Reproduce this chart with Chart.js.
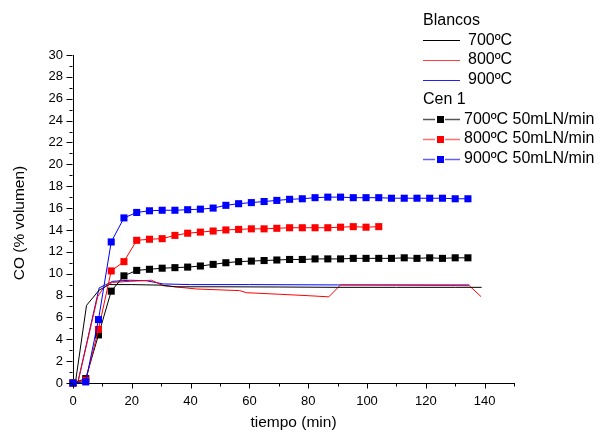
<!DOCTYPE html>
<html><head><meta charset="utf-8">
<script src="https://cdn.jsdelivr.net/npm/chart.js@4"></script>
<style>html,body{margin:0;padding:0;background:#fff}#wrap{width:609px;height:435px}</style>
</head><body><div id="wrap"><canvas id="c" width="609" height="435"></canvas></div>
<script>
// ---- DATA ----
const markerTimes = [0, 4.33, 8.67, 13, 17.33, 21.67, 26, 30.33, 34.67, 39, 43.33, 47.67, 52, 56.33, 60.67, 65,
  69.33, 73.67, 78, 82.33, 86.67, 91, 95.33, 99.67, 104, 108.33, 112.67, 117, 121.33, 125.67, 130, 134.33];
const cen700 = [0, 0.4, 4.4, 8.4, 9.8, 10.3, 10.4, 10.5, 10.55, 10.6, 10.7, 10.85, 11.0, 11.1, 11.15, 11.2,
  11.25, 11.3, 11.3, 11.35, 11.35, 11.35, 11.4, 11.4, 11.4, 11.4, 11.45, 11.4, 11.45, 11.4, 11.45, 11.45];
const cen800 = [0, 0.25, 4.9, 10.25, 11.1, 13.05, 13.15, 13.2, 13.5, 13.7, 13.8, 13.9, 14.0, 14.05, 14.1, 14.1,
  14.15, 14.2, 14.2, 14.2, 14.2, 14.25, 14.3, 14.25, 14.3];
const cen900 = [0, 0.1, 5.8, 12.9, 15.1, 15.6, 15.75, 15.8, 15.8, 15.85, 15.9, 16.0, 16.25, 16.4, 16.5, 16.6,
  16.7, 16.8, 16.85, 16.95, 17.0, 17.0, 16.95, 16.95, 16.95, 16.9, 16.9, 16.9, 16.9, 16.9, 16.85, 16.85];

const blanco700T = [0.8, 4.6, 8.9, 12.3, 20, 30, 35, 50, 70, 90, 110, 130, 139];
const blanco700  = [0, 7.1, 8.5, 9.0, 9.0, 8.95, 8.8, 8.8, 8.78, 8.75, 8.75, 8.75, 8.75];
const blanco800T = [1.6, 8.4, 10.1, 11.8, 13.5, 19.4, 26.7, 30.7, 42, 56.7, 59, 70, 80.5, 87, 91, 110, 134.8, 138.8];
const blanco800  = [0, 7.9, 8.6, 9.0, 9.2, 9.3, 9.4, 8.9, 8.6, 8.45, 8.26, 8.12, 7.98, 7.88, 8.97, 8.95, 8.9, 7.9];
const blanco900T = [1.6, 8.9, 11.2, 13.5, 19.4, 25, 30.7, 40, 60, 90, 120, 134.8];
const blanco900  = [0, 8.7, 9.0, 9.3, 9.4, 9.35, 9.06, 9.0, 9.0, 8.97, 8.97, 8.97];

const seriesLabels = ['700ºC', '800ºC', '900ºC', '700ºC 50mLN/min', '800ºC 50mLN/min', '900ºC 50mLN/min'];
const xTickValues = [0, 20, 40, 60, 80, 100, 120, 140];
const xTitle = 'tiempo (min)';
const yTitle = 'CO (% volumen)';

// ---- CHART ----
const FONT = "'Liberation Sans', Arial, sans-serif";
function pts(t, v) { return v.map((y, i) => ({ x: t[i], y })); }

const lineDs = (label, t, v, color, order) => ({
  label, data: pts(t, v), borderColor: color, backgroundColor: color, borderWidth: 1,
  pointRadius: 0, showLine: true, tension: 0, order
});
const markDs = (label, v, color, order) => ({
  label, data: pts(markerTimes, v), borderColor: color, backgroundColor: color, borderWidth: 1,
  pointRadius: 5, pointStyle: 'rect', pointBorderWidth: 0, showLine: true, tension: 0, clip: false, order
});

const tickPlugin = {
  id: 'tickmarks',
  afterDraw(chart) {
    const ctx = chart.ctx, xs = chart.scales.x, ys = chart.scales.y, ca = chart.chartArea;
    ctx.save();
    ctx.strokeStyle = '#000'; ctx.lineWidth = 1;
    ctx.beginPath();
    const ax = Math.round(ca.left) - 0.5;
    for (let v = 0; v <= 30; v++) {
      const y = Math.round(ys.getPixelForValue(v)) + 0.5;
      const len = v % 2 === 0 ? 6 : 3;
      ctx.moveTo(ax, y); ctx.lineTo(ax - len, y);
    }
    const ay = Math.round(ca.bottom) + 0.5;
    for (let v = 0; v <= 150; v += 10) {
      const x = Math.round(xs.getPixelForValue(v)) + 0.5;
      const len = v % 20 === 0 ? 5 : 3;
      ctx.moveTo(x, ay); ctx.lineTo(x, ay + len);
    }
    ctx.stroke();
    // y axis title
    ctx.translate(20, (ca.top + ca.bottom) / 2 + 4);
    ctx.rotate(-Math.PI / 2);
    ctx.font = '15.5px ' + FONT;
    ctx.fillStyle = '#000';
    ctx.textAlign = 'center';
    ctx.textBaseline = 'middle';
    ctx.fillText(yTitle, 0, 0);
    ctx.restore();
  }
};

const legendPlugin = {
  id: 'customLegend',
  afterDraw(chart) {
    const ctx = chart.ctx;
    ctx.save();
    ctx.font = '16px ' + FONT;
    ctx.fillStyle = '#000';
    ctx.textBaseline = 'middle';
    ctx.textAlign = 'left';
    const rows = [20.5, 40.3, 60, 79.7, 99.5, 119.2, 138.9, 158.6];
    ctx.fillText('Blancos', 423, rows[0]);
    const bcol = ['#000000', '#ff4040', '#2020ff'];
    for (let i = 0; i < 3; i++) {
      const y = Math.round(rows[i + 1]) + 0.5;
      ctx.strokeStyle = bcol[i]; ctx.lineWidth = 1;
      ctx.beginPath(); ctx.moveTo(423, y); ctx.lineTo(460, y); ctx.stroke();
      ctx.fillText(seriesLabels[i], 468, rows[i + 1]);
    }
    ctx.fillText('Cen 1', 423, rows[4]);
    const lcol = ['#555555', '#ff7070', '#6060ff'];
    const mcol = ['#000000', '#ff0000', '#0000ff'];
    for (let i = 0; i < 3; i++) {
      const y = Math.round(rows[i + 5]) + 0.5;
      ctx.strokeStyle = lcol[i]; ctx.lineWidth = 1.5;
      ctx.beginPath(); ctx.moveTo(423, y); ctx.lineTo(435, y); ctx.moveTo(445, y); ctx.lineTo(460, y); ctx.stroke();
      ctx.fillStyle = mcol[i];
      ctx.fillRect(437, y - 3.5, 7, 7);
      ctx.fillStyle = '#000';
      ctx.fillText(seriesLabels[i + 3], 464, rows[i + 5]);
    }
    ctx.restore();
  }
};

new Chart(document.getElementById('c'), {
  type: 'scatter',
  data: {
    datasets: [
      lineDs(seriesLabels[0], blanco700T, blanco700, '#000000', 4),
      lineDs(seriesLabels[1], blanco800T, blanco800, '#ff0000', 5),
      lineDs(seriesLabels[2], blanco900T, blanco900, '#0000ff', 6),
      markDs(seriesLabels[3], cen700, '#000000', 3),
      markDs(seriesLabels[4], cen800, '#ff0000', 2),
      markDs(seriesLabels[5], cen900, '#0000ff', 1)
    ]
  },
  options: {
    responsive: false,
    animation: false,
    devicePixelRatio: 1,
    layout: { padding: { top: 55, right: 95, left: 0, bottom: 0 } },
    plugins: { legend: { display: false }, tooltip: { enabled: false } },
    scales: {
      x: {
        type: 'linear', min: 0, max: 150,
        afterFit(s) { s.height = 52; },
        grid: { display: false, drawTicks: false },
        border: { display: true, color: '#000', width: 1 },
        ticks: {
          stepSize: 10, autoSkip: false, maxRotation: 0, padding: 11, color: '#000',
          font: { family: FONT, size: 13 },
          callback: v => xTickValues.includes(v) ? String(v) : ''
        },
        title: { display: true, text: xTitle, color: '#000', font: { family: FONT, size: 15.5 }, padding: { top: 0, bottom: 3 } }
      },
      y: {
        min: 0, max: 30,
        afterFit(s) { s.width = 73; },
        grid: { display: false, drawTicks: false },
        border: { display: true, color: '#000', width: 1 },
        ticks: { stepSize: 2, padding: 10, color: '#000', font: { family: FONT, size: 13 } },
        title: { display: false }
      }
    }
  },
  plugins: [tickPlugin, legendPlugin]
});
</script></body></html>
